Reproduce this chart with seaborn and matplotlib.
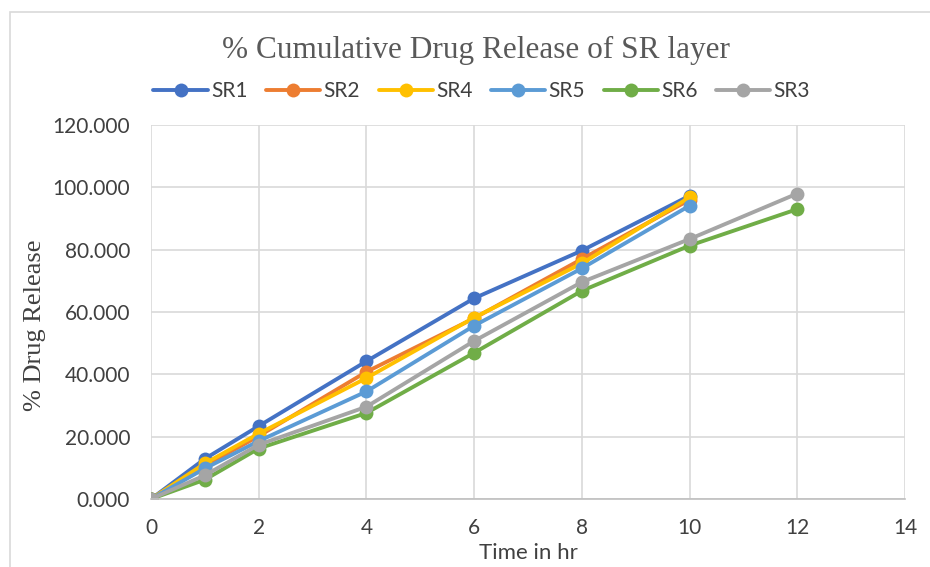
import matplotlib
matplotlib.use("Agg")
import matplotlib.pyplot as plt
import seaborn as sns
import pandas as pd
from matplotlib.patches import Rectangle

time_hr = [0, 1, 2, 4, 6, 8, 10, 12]
sr1 = [0, 12.9, 23.4, 44.2, 64.4, 79.7, 97.3, None]
sr2 = [0, 10.6, 20.2, 40.8, 58.0, 77.0, 96.0, None]
sr4 = [0, 11.4, 21.0, 38.8, 58.2, 75.6, 96.8, None]
sr5 = [0, 9.8, 18.6, 34.5, 55.6, 74.0, 94.1, None]
sr6 = [0, 6.2, 16.2, 27.6, 46.9, 66.8, 81.3, 93.0]
sr3 = [0, 7.6, 17.4, 29.6, 50.7, 69.6, 83.4, 98.0]
series_names = ["SR1", "SR2", "SR4", "SR5", "SR6", "SR3"]
series_values = [sr1, sr2, sr4, sr5, sr6, sr3]
colors = ["#4472C4", "#ED7D31", "#FFC000", "#5B9BD5", "#70AD47", "#A5A5A5"]
x_ticks = [0, 2, 4, 6, 8, 10, 12, 14]
y_ticks = [0, 20, 40, 60, 80, 100, 120]

rows = []
for name, vals in zip(series_names, series_values):
    for t, v in zip(time_hr, vals):
        if v is not None:
            rows.append({"Time": t, "Release": v, "Series": name})
df = pd.DataFrame(rows)

sns.set_style("white")
plt.rcParams["font.family"] = ["Lato", "DejaVu Sans"]

fig = plt.figure(figsize=(9.3, 5.67), dpi=100)
ax = fig.add_axes([151/930, 1-499/567, (905-151)/930, (499-125)/567])

sns.lineplot(data=df, x="Time", y="Release", hue="Series", hue_order=series_names,
             palette=colors, marker="o", markersize=10, linewidth=2.8,
             markeredgewidth=0, ax=ax, legend=True, estimator=None, sort=False)

ax.set_xlim(0, 14)
ax.set_ylim(0, 120)
ax.set_xticks(x_ticks)
ax.set_yticks(y_ticks)
ax.set_yticklabels([f"{v:.3f}" for v in y_ticks])
ax.grid(True, color="#D9D9D9", linewidth=1.2)
ax.set_axisbelow(True)
for s in ["top", "right", "left"]:
    ax.spines[s].set_visible(False)
ax.spines["bottom"].set_color("#BFBFBF")
ax.spines["bottom"].set_linewidth(1.2)
ax.tick_params(axis="y", length=0, labelsize=15, colors="#404040", pad=15)
ax.tick_params(axis="x", length=0, labelsize=15, colors="#404040", pad=14)
ax.set_xlabel("Time in hr", fontsize=16, color="#404040")
ax.xaxis.set_label_coords(0.5, -(553 - 499) / 374)
ax.set_ylabel("% Drug Release", fontsize=19, color="#404040",
              family=["Liberation Serif", "DejaVu Serif"])
ax.yaxis.set_label_coords((35 - 151) / 754, (499 - 325) / 374)
ax.yaxis.label.set_va("center")
ax.xaxis.label.set_va("center")

handles, labels = ax.get_legend_handles_labels()
ax.get_legend().remove()
fig.legend(handles, labels, loc="center", bbox_to_anchor=(0.518, 1-91/567), ncol=6,
           frameon=False, fontsize=15, handlelength=2.6, handletextpad=0.15,
           columnspacing=0.9, labelcolor="#404040")

fig.text(0.512, 1-50/567, "% Cumulative Drug Release of SR layer", ha="center", va="center",
         fontsize=22.5, color="#595959", family=["Liberation Serif", "DejaVu Serif"])

fig.patches.append(Rectangle((10/930, -0.1), 1.2, 1.1 - 12/567, transform=fig.transFigure,
                             fill=False, edgecolor="#D9D9D9", linewidth=1.2))

fig.savefig("out.png", dpi=100)
